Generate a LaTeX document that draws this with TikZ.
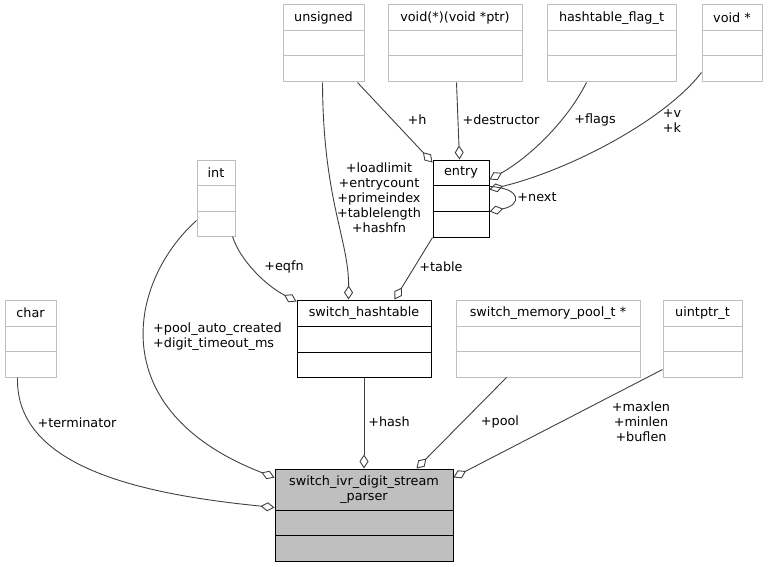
\documentclass[tikz,border=0pt]{standalone}
\usepackage{fontspec}
\setmainfont{DejaVu Sans}
\usetikzlibrary{arrows.meta,fit,calc}
\definecolor{boxgray}{HTML}{BFBFBF}
\definecolor{edgecol}{HTML}{404040}
\definecolor{mainfill}{HTML}{BFBFBF}
\newcommand\lab{\fontsize{12.8}{15}\selectfont}
% name, style, x1, y1, x2, y2, sep1, sep2, title
\newcommand\cbox[9]{%
  \node[#2, fit={(#3,#4)(#5,#6)}, inner sep=0pt] (#1) {};
  \draw[#2] (#3,#7) -- (#5,#7) (#3,#8) -- (#5,#8);
  \node[lbl] at ({(#3+#5)/2},{(#4+#7)/2}) {#9};
}
\begin{document}
\begin{tikzpicture}[x=1pt,y=-1pt,
  gbox/.style={draw=boxgray, line width=1pt},
  bbox/.style={draw=black, line width=1pt},
  mbox/.style={draw=black, fill=mainfill, line width=1pt},
  lbl/.style={font=\lab, align=center, inner sep=0pt, text=black},
  edge/.style={draw=edgecol, line width=0.9pt},
  agg/.style={{Diamond[open,length=14pt,width=9pt]}-}]
\useasboundingbox (0,0) rectangle (768,567);

\cbox{unsigned}{gbox}{283}{5}{364}{82}{31}{56}{unsigned}
\cbox{voidfn}{gbox}{388}{5}{522}{82}{31}{56}{void(*)(void *ptr)}
\cbox{flag}{gbox}{547}{5}{676}{82}{31}{56}{hashtable\_flag\_t}
\cbox{voidp}{gbox}{702}{5}{762}{82}{31}{56}{void *}
\cbox{int}{gbox}{197}{160}{235}{236}{185}{211}{int}
\cbox{entry}{bbox}{433}{160}{489}{237}{185}{211}{entry}
\cbox{char}{gbox}{5}{300}{56}{377}{326}{351}{char}
\cbox{hashtable}{bbox}{297}{300}{431}{377}{326}{352}{switch\_hashtable}
\cbox{mempool}{gbox}{456}{300}{640}{377}{326}{351}{switch\_memory\_pool\_t *}
\cbox{uintptr}{gbox}{663}{300}{742}{377}{326}{351}{uintptr\_t}
\cbox{main}{mbox}{275}{469}{453}{561}{510}{535}{switch\_ivr\_digit\_stream\\\_parser}

% edges
\draw[edge,agg] ($(main.north west)+(0,39)$) .. controls (150,495) and (15,470) .. ($(char.south west)+(13,0)$);
\draw[edge,agg] ($(main.north west)+(0,9)$) .. controls (100,410) and (130,280) .. ($(int.south west)+(0,-16)$);
\draw[edge,agg] ($(hashtable.north west)+(0,2)$) .. controls (265,285) and (240,260) .. ($(int.south east)+(-3,0)$);
\draw[edge,agg] ($(hashtable.north west)+(52,0)$) .. controls (349,240) and (323,200) .. ($(unsigned.south west)+(40,0)$);
\draw[edge,agg] ($(entry.north west)+(0,3)$) -- ($(unsigned.south west)+(75,0)$);
\draw[edge,agg] ($(entry.north west)+(27,0)$) -- ($(voidfn.south west)+(69,0)$);
\draw[edge,agg] ($(entry.north east)+(0,20)$) .. controls (525,160) and (565,125) .. ($(flag.south west)+(40,0)$);
\draw[edge,agg] ($(entry.north east)+(0,30)$) .. controls (570,170) and (665,120) .. ($(voidp.south west)+(0,-10)$);
\draw[edge,agg] ($(entry.north east)+(0,52)$) .. controls (522,205) and (522,188) .. ($(entry.north east)+(0,27)$);
\draw[edge,agg] ($(hashtable.north west)+(98,0)$) -- (entry.south west);
\draw[edge,agg] (main.north) -- (hashtable.south);
\draw[edge,agg] ($(main.north west)+(142,0)$) -- ($(mempool.south west)+(51,0)$);
\draw[edge,agg] ($(main.north east)+(0,9)$) -- ($(uintptr.south west)+(0,-8)$);

% labels
\node[lbl] (lterm) at (77,423) {+terminator};
\node[lbl, align=left, anchor=west] (lpool) at (153,337) {+pool\_auto\_created\\+digit\_timeout\_ms};
\node[lbl] (leqfn) at (284,267) {+eqfn};
\node[lbl] (lload) at (379,198) {+loadlimit\\+entrycount\\+primeindex\\+tablelength\\+hashfn};
\node[lbl] (ltable) at (441,267) {+table};
\node[lbl] (lh) at (417,120) {+h};
\node[lbl] (ldestr) at (501,120) {+destructor};
\node[lbl] (lflags) at (595,120) {+flags};
\node[lbl] (lvk) at (672,121) {+v\\+k};
\node[lbl] (lnext) at (537,197) {+next};
\node[lbl] (lhash) at (389,422) {+hash};
\node[lbl] (lpoolm) at (500,422) {+pool};
\node[lbl] (lmax) at (641,422) {+maxlen\\+minlen\\+buflen};
\end{tikzpicture}
\end{document}
